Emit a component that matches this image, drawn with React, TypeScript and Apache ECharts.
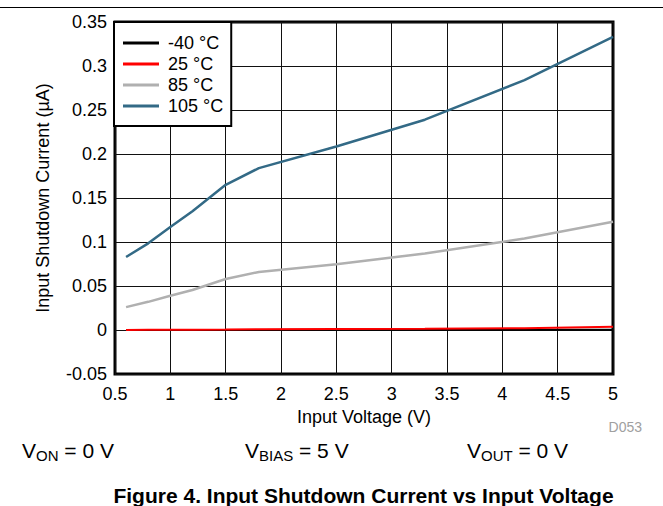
import React, { useEffect, useRef } from "react";
import * as echarts from "echarts";

// ---- data ----
const voltage = [0.6, 0.8, 1.0, 1.2, 1.5, 1.8, 2.5, 3.3, 4.2, 5.0];
const currentM40 = [0.0, 0.0, 0.0, 0.0001, 0.0001, 0.0001, 0.0002, 0.0002, 0.0003, 0.0004];
const current25 = [0.0, 0.0002, 0.0003, 0.0004, 0.0005, 0.0008, 0.001, 0.0013, 0.002, 0.0036];
const current85 = [0.026, 0.032, 0.039, 0.0455, 0.058, 0.066, 0.0746, 0.087, 0.104, 0.123];
const current105 = [0.083, 0.0985, 0.117, 0.135, 0.165, 0.184, 0.2085, 0.239, 0.284, 0.333];
const seriesNames = ["-40 °C", "25 °C", "85 °C", "105 °C"];
const seriesColors = ["#000000", "#ff0000", "#b0b0b0", "#336a86"];
const seriesWidths = [2, 2, 2.5, 2.5];
const xAxisRange = { min: 0.5, max: 5, step: 0.5 };
const yAxisRange = { min: -0.05, max: 0.35, step: 0.05 };
const xAxisTitle = "Input Voltage (V)";
const yAxisTitle = "Input Shutdown Current (\u00b5A)";
const figureTitle = "Figure 4. Input Shutdown Current vs Input Voltage";
const figureCode = "D053";
const conditions = [
  { main: "V", sub: "ON", rest: " = 0 V" },
  { main: "V", sub: "BIAS", rest: " = 5 V" },
  { main: "V", sub: "OUT", rest: " = 0 V" },
];

const FONT = "'Liberation Sans', Arial, Helvetica, sans-serif";

export default function App() {
  const ref = useRef<HTMLDivElement>(null);

  useEffect(() => {
    if (!ref.current) return;
    const chart = echarts.init(ref.current, undefined, { renderer: "svg" });
    const allSeries = [currentM40, current25, current85, current105];
    const condX = [22, 245, 467];

    const option: any = {
      animation: false,
      color: seriesColors,
      textStyle: { fontFamily: FONT },
      grid: {
        left: 115,
        top: 22,
        right: 50,
        bottom: 132,
        show: true,
        borderColor: "#000",
        borderWidth: 3,
        backgroundColor: "transparent",
        containLabel: false,
      },
      legend: {
        show: true,
        orient: "vertical",
        left: 114,
        top: 22,
        padding: [12, 8, 11, 9],
        itemGap: 3,
        itemWidth: 36,
        itemHeight: 3,
        icon: "rect",
        backgroundColor: "#fff",
        borderColor: "#000",
        borderWidth: 2,
        textStyle: { fontSize: 18, color: "#000", fontFamily: FONT, padding: [0, 0, 0, 4] },
        data: seriesNames,
        z: 10,
      },
      xAxis: {
        type: "value",
        min: xAxisRange.min,
        max: xAxisRange.max,
        interval: xAxisRange.step,
        axisLine: { show: false },
        axisTick: { show: false },
        axisLabel: { fontSize: 18, color: "#000", margin: 11, fontFamily: FONT },
        splitLine: { show: true, lineStyle: { color: "#111", width: 1 } },
      },
      yAxis: {
        type: "value",
        min: yAxisRange.min,
        max: yAxisRange.max,
        interval: yAxisRange.step,
        axisLine: { show: false },
        axisTick: { show: false },
        axisLabel: { fontSize: 18, color: "#000", margin: 8, fontFamily: FONT },
        splitLine: { show: true, lineStyle: { color: "#111", width: 1 } },
      },
      series: seriesNames.map((name, i) => ({
        name,
        type: "line",
        data: voltage.map((v, k) => [v, allSeries[i][k]]),
        showSymbol: false,
        symbol: "none",
        smooth: false,
        lineStyle: { width: seriesWidths[i], color: seriesColors[i] },
        itemStyle: { color: seriesColors[i] },
        z: 3 + i,
      })),
      graphic: [
        {
          type: "line",
          shape: { x1: 0, y1: 7.5, x2: 663, y2: 7.5 },
          style: { stroke: "#000", lineWidth: 1 },
        },
        {
          type: "text",
          x: 364,
          y: 417,
          style: {
            text: xAxisTitle,
            fontSize: 18,
            fontFamily: FONT,
            fill: "#000",
            align: "center",
            verticalAlign: "middle",
          },
        },
        {
          type: "text",
          x: 43,
          y: 198,
          rotation: Math.PI / 2,
          style: {
            text: yAxisTitle,
            fontSize: 18,
            fontFamily: FONT,
            fill: "#000",
            align: "center",
            verticalAlign: "middle",
          },
        },
        {
          type: "text",
          x: 642,
          y: 427,
          style: {
            text: figureCode,
            fontSize: 14,
            fontFamily: FONT,
            fill: "#a0a0a0",
            align: "right",
            verticalAlign: "middle",
          },
        },
        ...conditions.map((c, i) => ({
          type: "text",
          x: condX[i],
          y: 450,
          style: {
            text: `{m|${c.main}}{s|${c.sub}}{m|${c.rest}}`,
            align: "left",
            verticalAlign: "middle",
            fill: "#000",
            rich: {
              m: { fontSize: 21, lineHeight: 25, fontFamily: FONT, fill: "#000" },
              s: {
                fontSize: 15,
                lineHeight: 15,
                verticalAlign: "bottom",
                fontFamily: FONT,
                fill: "#000",
              },
            },
          },
        })),
        {
          type: "text",
          x: 363.5,
          y: 495,
          style: {
            text: figureTitle,
            fontSize: 21,
            fontWeight: "bold",
            fontFamily: FONT,
            fill: "#000",
            align: "center",
            verticalAlign: "middle",
          },
        },
      ],
    };

    chart.setOption(option);
    return () => chart.dispose();
  }, []);

  return (
    <div
      ref={ref}
      style={{ position: "fixed", left: 0, top: 0, width: 663, height: 506, background: "#fff" }}
    />
  );
}
